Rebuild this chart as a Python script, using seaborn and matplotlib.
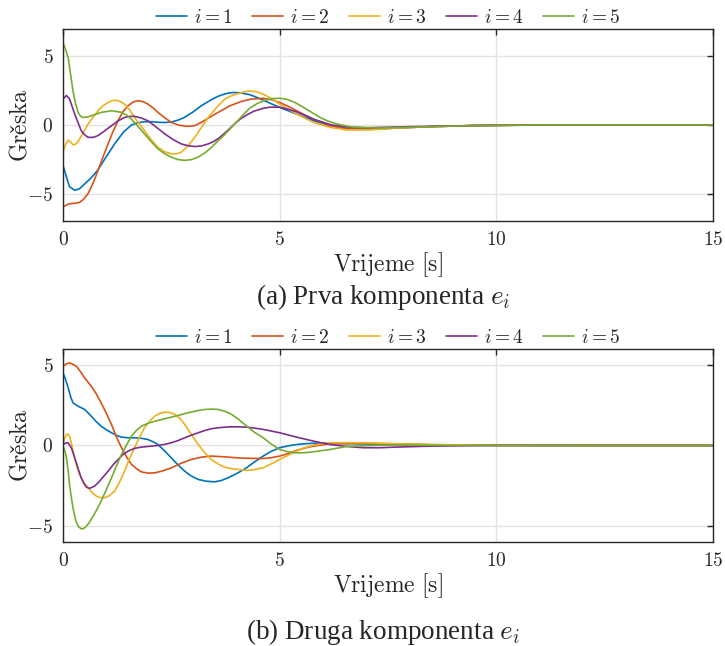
import matplotlib
matplotlib.use("Agg")
import matplotlib.pyplot as plt
from matplotlib.ticker import FuncFormatter
import pandas as pd
import seaborn as sns

# Style: MATLAB-like boxed axes with light grid
sns.set_theme(style="whitegrid")
plt.rcParams["font.family"] = ["Liberation Serif", "DejaVu Serif"]
plt.rcParams["mathtext.fontset"] = "cm"

labels = [r"$i=1$", r"$i=2$", r"$i=3$", r"$i=4$", r"$i=5$"]
colors = ["#0072BD", "#D95319", "#EDB120", "#7E2F8E", "#77AC30"]

# (a) Prva komponenta e_i
a_t1 = [0, 0.08, 0.15, 0.27, 0.38, 0.5, 0.65, 0.8, 1.0, 1.19, 1.4, 1.58, 1.73, 1.88, 2.05, 2.2, 2.35, 2.5, 2.65, 2.8, 3.0, 3.19, 3.4, 3.58, 3.75, 3.92, 4.1, 4.32, 4.5, 4.7, 5.0, 5.39, 5.78, 6.16, 6.55, 6.93, 7.3, 7.7, 8.47, 9.5, 11, 15]
a_e1 = [-2.95, -3.8, -4.5, -4.76, -4.65, -4.3, -3.85, -3.3, -2.3, -1.38, -0.5, 0.0, 0.17, 0.24, 0.24, 0.2, 0.18, 0.22, 0.35, 0.55, 0.95, 1.4, 1.8, 2.1, 2.28, 2.37, 2.35, 2.2, 1.98, 1.7, 1.28, 0.8, 0.32, -0.05, -0.24, -0.29, -0.27, -0.22, -0.12, -0.04, 0, 0]
a_t2 = [0, 0.1, 0.19, 0.3, 0.38, 0.48, 0.58, 0.7, 0.81, 0.92, 1.04, 1.15, 1.27, 1.38, 1.5, 1.62, 1.73, 1.85, 1.96, 2.08, 2.19, 2.35, 2.5, 2.68, 2.88, 3.04, 3.19, 3.38, 3.58, 3.85, 4.1, 4.32, 4.62, 4.8, 5.0, 5.2, 5.39, 5.58, 5.78, 6.16, 6.55, 7.08, 7.7, 8.47, 9.5, 11, 15]
a_e2 = [-5.97, -5.8, -5.72, -5.7, -5.65, -5.4, -5.0, -4.2, -3.3, -2.35, -1.38, -0.5, 0.31, 0.95, 1.4, 1.68, 1.77, 1.7, 1.52, 1.25, 0.92, 0.52, 0.19, -0.02, -0.1, -0.05, 0.19, 0.55, 0.92, 1.4, 1.7, 1.88, 1.95, 1.85, 1.64, 1.36, 1.04, 0.73, 0.43, -0.05, -0.29, -0.31, -0.22, -0.12, -0.04, 0, 0]
a_t3 = [0, 0.06, 0.12, 0.18, 0.23, 0.29, 0.35, 0.46, 0.58, 0.7, 0.81, 0.92, 1.04, 1.12, 1.19, 1.3, 1.42, 1.54, 1.65, 1.77, 1.88, 2.03, 2.19, 2.35, 2.5, 2.62, 2.73, 2.88, 3.04, 3.2, 3.35, 3.55, 3.73, 3.9, 4.04, 4.18, 4.32, 4.47, 4.62, 4.8, 5.0, 5.2, 5.39, 5.78, 6.16, 6.55, 7.08, 7.7, 8.47, 9.5, 11, 15]
a_e3 = [-1.98, -1.4, -1.1, -1.25, -1.45, -1.4, -1.2, -0.6, 0.07, 0.6, 1.04, 1.4, 1.64, 1.76, 1.81, 1.75, 1.52, 1.1, 0.55, 0.05, -0.41, -1.05, -1.62, -1.95, -2.1, -2.1, -1.98, -1.55, -0.9, -0.15, 0.55, 1.3, 1.88, 2.15, 2.29, 2.42, 2.49, 2.42, 2.25, 1.95, 1.52, 1.15, 0.8, 0.19, -0.17, -0.36, -0.36, -0.22, -0.12, -0.04, 0, 0]
a_t4 = [0, 0.08, 0.15, 0.21, 0.27, 0.35, 0.42, 0.5, 0.58, 0.7, 0.81, 0.95, 1.12, 1.27, 1.42, 1.55, 1.65, 1.8, 1.96, 2.15, 2.35, 2.55, 2.73, 2.9, 3.04, 3.2, 3.35, 3.48, 3.6, 3.72, 3.85, 4.0, 4.1, 4.25, 4.4, 4.6, 4.77, 5.0, 5.2, 5.4, 5.6, 5.8, 6.2, 6.6, 7.0, 8.0, 9.5, 11, 15]
a_e4 = [1.9, 2.15, 1.9, 1.35, 0.8, 0.15, -0.41, -0.72, -0.9, -0.9, -0.77, -0.45, -0.05, 0.3, 0.55, 0.63, 0.63, 0.52, 0.31, -0.15, -0.65, -1.08, -1.38, -1.52, -1.57, -1.52, -1.38, -1.2, -0.95, -0.62, -0.25, 0.2, 0.45, 0.75, 1.0, 1.2, 1.3, 1.3, 1.15, 0.95, 0.68, 0.4, 0.0, -0.15, -0.2, -0.12, -0.04, 0, 0]
a_t5 = [0, 0.05, 0.12, 0.18, 0.23, 0.29, 0.35, 0.4, 0.46, 0.55, 0.65, 0.88, 1.12, 1.35, 1.47, 1.58, 1.73, 1.88, 2.03, 2.19, 2.35, 2.5, 2.65, 2.81, 2.97, 3.12, 3.28, 3.43, 3.58, 3.73, 3.85, 4.0, 4.16, 4.3, 4.47, 4.65, 4.85, 5.0, 5.16, 5.35, 5.55, 5.75, 5.93, 6.12, 6.32, 6.7, 7.3, 8.47, 9.5, 11, 15]
a_e5 = [5.99, 5.6, 4.9, 3.6, 2.48, 1.55, 0.92, 0.65, 0.55, 0.57, 0.67, 0.92, 1.04, 0.92, 0.72, 0.43, -0.1, -0.65, -1.2, -1.74, -2.1, -2.34, -2.52, -2.58, -2.52, -2.34, -2.02, -1.62, -1.15, -0.7, -0.3, 0.2, 0.75, 1.2, 1.55, 1.8, 1.93, 1.95, 1.88, 1.65, 1.28, 0.9, 0.55, 0.28, 0.07, -0.17, -0.22, -0.12, -0.04, 0, 0]

# (b) Druga komponenta e_i
b_t1 = [0, 0.06, 0.12, 0.18, 0.23, 0.35, 0.5, 0.65, 0.76, 0.88, 1.0, 1.12, 1.23, 1.35, 1.5, 1.65, 1.8, 1.96, 2.08, 2.19, 2.35, 2.5, 2.65, 2.81, 2.96, 3.12, 3.3, 3.5, 3.65, 3.81, 4.04, 4.24, 4.42, 4.62, 4.8, 5.0, 5.2, 5.39, 5.6, 5.85, 6.5, 7.3, 8.5, 10, 12, 15]
b_e1 = [4.51, 4.1, 3.58, 3.0, 2.65, 2.44, 2.24, 1.83, 1.5, 1.2, 0.98, 0.79, 0.63, 0.52, 0.48, 0.48, 0.45, 0.37, 0.23, 0.06, -0.35, -0.77, -1.2, -1.6, -1.9, -2.11, -2.22, -2.26, -2.18, -2.01, -1.7, -1.38, -1.02, -0.66, -0.37, -0.14, -0.02, 0.06, 0.11, 0.15, 0.12, 0.08, 0.04, 0.01, 0, 0]
b_t2 = [0, 0.08, 0.15, 0.23, 0.31, 0.4, 0.5, 0.65, 0.77, 0.88, 1.0, 1.12, 1.23, 1.35, 1.47, 1.58, 1.7, 1.81, 1.96, 2.12, 2.3, 2.5, 2.73, 2.96, 3.2, 3.42, 3.7, 4.04, 4.32, 4.62, 4.8, 5.0, 5.2, 5.39, 5.58, 5.78, 6.16, 6.93, 7.7, 8.5, 10, 12, 15]
b_e2 = [4.92, 5.08, 5.13, 5.05, 4.92, 4.6, 4.2, 3.69, 3.2, 2.65, 2.0, 1.3, 0.55, -0.14, -0.72, -1.18, -1.45, -1.64, -1.72, -1.7, -1.58, -1.39, -1.1, -0.87, -0.72, -0.66, -0.7, -0.77, -0.8, -0.81, -0.76, -0.66, -0.5, -0.31, -0.16, -0.04, 0.1, 0.14, 0.1, 0.05, 0.01, 0, 0]
b_t3 = [0, 0.04, 0.08, 0.12, 0.15, 0.19, 0.23, 0.3, 0.38, 0.48, 0.58, 0.67, 0.77, 0.87, 0.96, 1.07, 1.19, 1.3, 1.42, 1.53, 1.65, 1.77, 1.88, 2.0, 2.12, 2.23, 2.35, 2.47, 2.58, 2.7, 2.81, 2.96, 3.12, 3.27, 3.42, 3.58, 3.73, 3.9, 4.04, 4.24, 4.42, 4.62, 4.8, 5.0, 5.2, 5.39, 5.58, 5.78, 6.16, 6.93, 7.7, 8.5, 10, 12, 15]
b_e3 = [0.06, 0.45, 0.68, 0.7, 0.58, 0.2, -0.35, -1.1, -1.8, -2.3, -2.63, -2.92, -3.15, -3.24, -3.25, -3.12, -2.84, -2.3, -1.6, -0.85, -0.14, 0.52, 1.1, 1.52, 1.83, 2.0, 2.07, 2.05, 1.93, 1.68, 1.3, 0.7, 0.06, -0.45, -0.87, -1.15, -1.35, -1.45, -1.49, -1.55, -1.5, -1.38, -1.15, -0.87, -0.6, -0.35, -0.14, 0.02, 0.17, 0.17, 0.1, 0.05, 0.01, 0, 0]
b_t4 = [0, 0.06, 0.12, 0.2, 0.27, 0.35, 0.42, 0.48, 0.54, 0.6, 0.65, 0.73, 0.81, 0.92, 1.04, 1.15, 1.27, 1.38, 1.5, 1.65, 1.81, 2.0, 2.19, 2.35, 2.5, 2.65, 2.81, 2.96, 3.12, 3.27, 3.42, 3.58, 3.73, 3.88, 4.04, 4.24, 4.42, 4.62, 5.0, 5.39, 5.78, 6.16, 6.55, 6.93, 7.31, 7.7, 8.47, 10, 12, 15]
b_e4 = [0.06, 0.15, 0.17, -0.2, -0.77, -1.45, -2.01, -2.35, -2.59, -2.66, -2.63, -2.52, -2.32, -1.98, -1.6, -1.22, -0.87, -0.58, -0.35, -0.18, -0.1, -0.05, 0.0, 0.07, 0.17, 0.3, 0.48, 0.64, 0.79, 0.93, 1.04, 1.1, 1.14, 1.16, 1.16, 1.14, 1.08, 1.0, 0.79, 0.52, 0.27, 0.06, -0.06, -0.14, -0.14, -0.1, -0.04, 0, 0, 0]
b_t5 = [0, 0.04, 0.08, 0.12, 0.15, 0.19, 0.23, 0.27, 0.31, 0.36, 0.42, 0.48, 0.54, 0.6, 0.65, 0.77, 0.88, 1.0, 1.12, 1.23, 1.35, 1.47, 1.58, 1.7, 1.81, 1.96, 2.12, 2.3, 2.5, 2.7, 2.88, 3.08, 3.27, 3.42, 3.58, 3.73, 3.88, 4.04, 4.24, 4.42, 4.62, 4.8, 5.0, 5.2, 5.39, 5.58, 5.78, 6.16, 6.55, 7.3, 8.5, 10, 12, 15]
b_e5 = [-0.04, -0.3, -0.77, -1.6, -2.42, -3.2, -3.87, -4.4, -4.8, -5.05, -5.18, -5.16, -5.01, -4.82, -4.6, -4.05, -3.46, -2.75, -2.01, -1.28, -0.56, 0.05, 0.58, 0.95, 1.2, 1.38, 1.51, 1.63, 1.76, 1.9, 2.03, 2.15, 2.24, 2.26, 2.24, 2.13, 1.95, 1.65, 1.2, 0.82, 0.48, 0.1, -0.25, -0.4, -0.46, -0.45, -0.39, -0.25, -0.06, 0.02, 0.02, 0, 0, 0]

panels = [
    dict(t=[a_t1, a_t2, a_t3, a_t4, a_t5], e=[a_e1, a_e2, a_e3, a_e4, a_e5],
         ylim=(-7, 7), caption=r"(a) Prva komponenta $e_i$"),
    dict(t=[b_t1, b_t2, b_t3, b_t4, b_t5], e=[b_e1, b_e2, b_e3, b_e4, b_e5],
         ylim=(-6, 6), caption=r"(b) Druga komponenta $e_i$"),
]

fig = plt.figure(figsize=(7.25, 6.46), dpi=100)
axes = [fig.add_axes([0.0869, 0.6579, 0.8966, 0.2972]),
        fig.add_axes([0.0869, 0.1610, 0.8966, 0.2988])]
caption_y = [0.540, 0.022]

for ax, p, cy in zip(axes, panels, caption_y):
    df = pd.concat([pd.DataFrame({"t": t, "e": e, "serija": lab})
                    for t, e, lab in zip(p["t"], p["e"], labels)], ignore_index=True)
    sns.lineplot(data=df, x="t", y="e", hue="serija", palette=colors,
                 estimator=None, linewidth=1.2, solid_joinstyle="round", ax=ax)
    ax.set_xlim(0, 15)
    ax.set_ylim(*p["ylim"])
    ax.set_xticks([0, 5, 10, 15])
    ax.set_yticks([-5, 0, 5])
    fmt = FuncFormatter(lambda v, pos: f"${v:g}$")
    ax.xaxis.set_major_formatter(fmt)
    ax.yaxis.set_major_formatter(fmt)
    ax.tick_params(direction="in", length=4, width=1, color="#262626",
                   top=True, right=True, labelsize=14, pad=7, labelcolor="#262626")
    ax.grid(True, color="#e3e3e3", linewidth=1)
    for s in ax.spines.values():
        s.set_color("#262626")
        s.set_linewidth(1)
    ax.set_xlabel(r"$\mathrm{Vrijeme\ [s]}$", fontsize=17, labelpad=1, color="#262626")
    ax.set_ylabel(r"$\mathrm{Gre\check{s}ka}$", fontsize=17, labelpad=-3, color="#262626")
    handles, labs = ax.get_legend_handles_labels()
    ax.legend(handles, labs, loc="lower center", bbox_to_anchor=(0.5, 1.0), ncol=5,
              frameon=False, fontsize=14, handlelength=1.6, handletextpad=0.35,
              columnspacing=1.0, borderaxespad=0.1, borderpad=0.0)
    fig.text(0.528, cy, p["caption"], ha="center", va="center", fontsize=19.5)

fig.savefig("out.png", dpi=100)
